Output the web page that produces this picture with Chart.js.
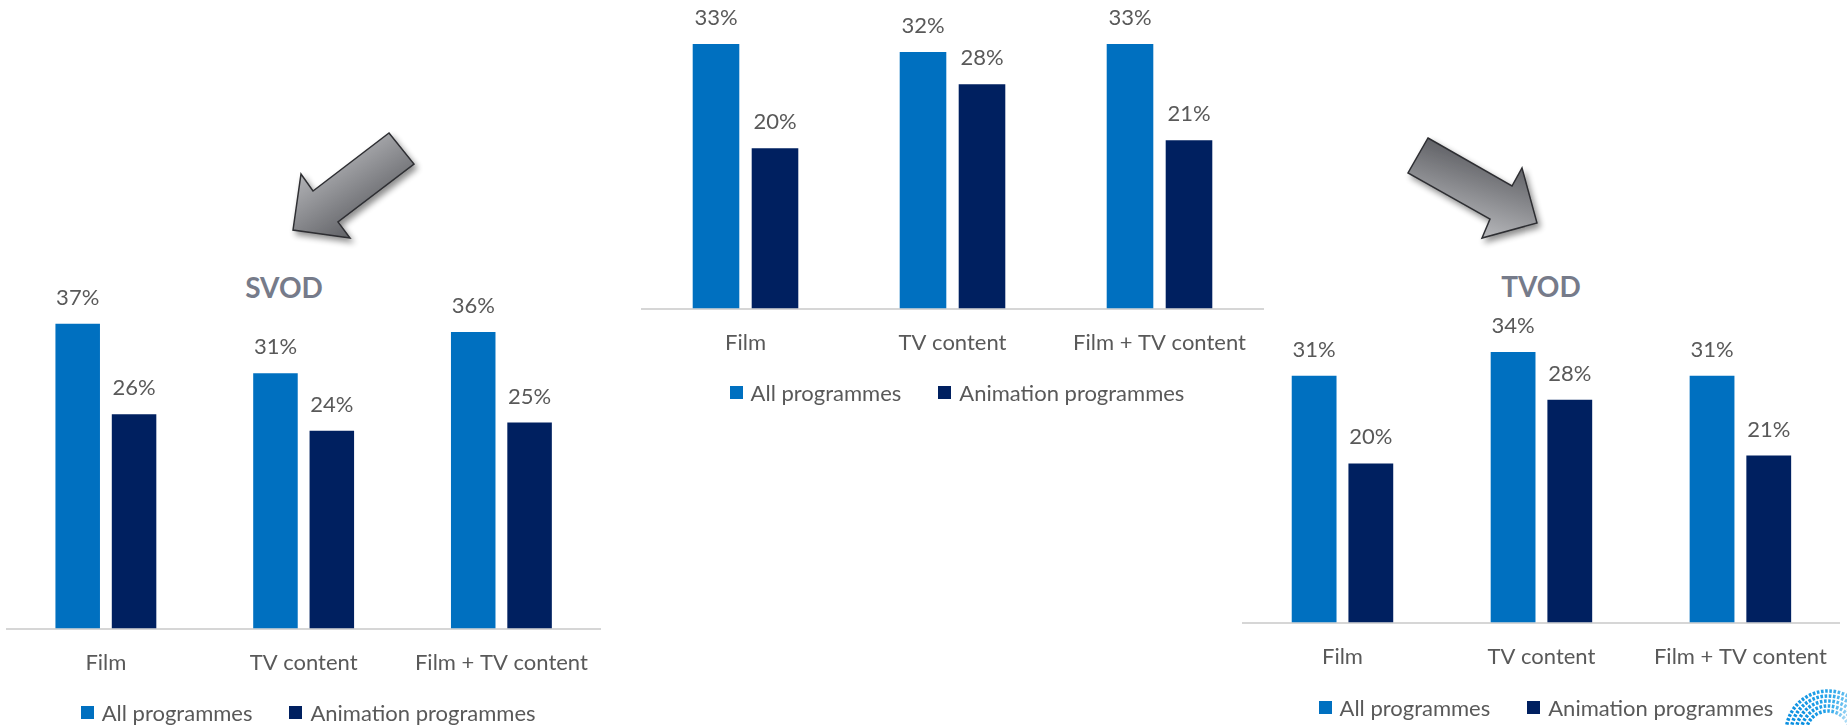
<!DOCTYPE html>
<html>
<head>
<meta charset="utf-8">
<script src="https://cdn.jsdelivr.net/npm/chart.js@4.4.1/dist/chart.umd.min.js"></script>
<style>
  html, body { margin: 0; padding: 0; background: #ffffff; }
  body { width: 1847px; height: 725px; overflow: hidden; position: relative; font-family: Lato, "Open Sans", sans-serif; }
  canvas { position: absolute; }
  .title { position: absolute; transform: translate(-50%, -50%); font: bold 28px Lato, sans-serif; color: #767b8a; line-height: 1; white-space: nowrap; }
  svg.deco { position: absolute; left: 0; top: 0; }
</style>
</head>
<body>
<svg class="deco" width="1847" height="725" viewBox="0 0 1847 725">
  <defs>
    <linearGradient id="gLeft" x1="0.15" y1="0.05" x2="0.85" y2="0.95">
      <stop offset="0" stop-color="#c9cacd"/>
      <stop offset="1" stop-color="#4a4b50"/>
    </linearGradient>
    <linearGradient id="gRight" x1="0.7" y1="0" x2="0.3" y2="1">
      <stop offset="0" stop-color="#4a4b50"/>
      <stop offset="1" stop-color="#c3c4c7"/>
    </linearGradient>
    <linearGradient id="gLogo" x1="0" y1="0" x2="1" y2="0">
      <stop offset="0" stop-color="#0a8fe0"/>
      <stop offset="0.55" stop-color="#2aa6ea"/>
      <stop offset="1" stop-color="#cfe9f8"/>
    </linearGradient>
    <filter id="shadow" x="-30%" y="-30%" width="160%" height="160%">
      <feGaussianBlur in="SourceAlpha" stdDeviation="3"/>
      <feOffset dx="3" dy="4" result="b"/>
      <feComponentTransfer><feFuncA type="linear" slope="0.45"/></feComponentTransfer>
      <feMerge><feMergeNode/><feMergeNode in="SourceGraphic"/></feMerge>
    </filter>
  </defs>
  <polygon points="389,133 414,164 338,222 350,238 293,230 301,174 313,191" fill="url(#gLeft)" stroke="#2e2f33" stroke-width="1.5" stroke-linejoin="miter" filter="url(#shadow)"/>
  <polygon points="1428,138 1512,186 1522,168 1537,223 1482,238 1490,219 1408,173" fill="url(#gRight)" stroke="#2e2f33" stroke-width="1.5" stroke-linejoin="miter" filter="url(#shadow)"/>
  <g fill="none" stroke="url(#gLogo)" stroke-width="3.5" stroke-dasharray="2.6 1.6">
    <path d="M 1806 733 A 22 22 0 0 1 1850 733"/>
    <path d="M 1801 733 A 27 27 0 0 1 1855 733"/>
    <path d="M 1796 733 A 32 32 0 0 1 1860 733"/>
    <path d="M 1791 733 A 37 37 0 0 1 1865 733"/>
    <path d="M 1786 733 A 42 42 0 0 1 1870 733"/>
  </g>
</svg>

<div class="title" style="left:284px; top:287px;">SVOD</div>
<div class="title" style="left:1541px; top:286px;">TVOD</div>

<canvas id="cSvod" width="610" height="468" style="left:0px; top:260px;"></canvas>
<canvas id="cAll" width="635" height="408" style="left:635px; top:0px;"></canvas>
<canvas id="cTvod" width="613" height="422" style="left:1236px; top:300px;"></canvas>

<script>
// ---- Data ----
const categories = ['Film', 'TV content', 'Film + TV content'];
const seriesNames = ['All programmes', 'Animation programmes'];

const allVodAll = [33, 32, 33];
const allVodAnimation = [20, 28, 21];

const svodAll = [37, 31, 36];
const svodAnimation = [26, 24, 25];

const tvodAll = [31, 34, 31];
const tvodAnimation = [20, 28, 21];

// ---- Styles ----
const colorAll = '#0070C0';
const colorAnim = '#002060';
const textGray = '#595959';
const fontFamily = 'Lato, "Open Sans", sans-serif';

const valueLabels = {
  id: 'valueLabels',
  afterDatasetsDraw(chart) {
    const ctx = chart.ctx;
    ctx.save();
    ctx.font = '22px ' + fontFamily;
    ctx.fillStyle = textGray;
    ctx.textAlign = 'center';
    ctx.textBaseline = 'middle';
    chart.data.datasets.forEach((ds, i) => {
      chart.getDatasetMeta(i).data.forEach((bar, j) => {
        ctx.fillText(ds.data[j] + '%', bar.x, bar.y - 26);
      });
    });
    ctx.restore();
  }
};

// Legend below the axis, built from the datasets' labels and colours
const bottomLegend = {
  id: 'bottomLegend',
  afterDraw(chart, args, opts) {
    const ctx = chart.ctx;
    const area = chart.chartArea;
    ctx.save();
    ctx.font = '22px ' + fontFamily;
    ctx.textBaseline = 'middle';
    ctx.textAlign = 'left';
    const box = 13, boxGap = 8, itemGap = 37;
    const items = chart.data.datasets.map(ds => ({
      text: ds.label,
      color: ds.backgroundColor,
      w: box + boxGap + ctx.measureText(ds.label).width
    }));
    const total = items.reduce((s, it) => s + it.w, 0) + itemGap * (items.length - 1);
    let x = (area.left + area.right) / 2 + opts.shift - total / 2;
    const y = area.bottom + opts.offset;
    items.forEach(it => {
      ctx.fillStyle = it.color;
      ctx.fillRect(Math.round(x), Math.round(y - box / 2), box, box);
      ctx.fillStyle = textGray;
      ctx.fillText(it.text, x + box + boxGap, y + 1);
      x += it.w + itemGap;
    });
    ctx.restore();
  }
};

function makeChart(id, allData, animData, yMax, padTop, legendOffset) {
  return new Chart(document.getElementById(id), {
    type: 'bar',
    data: {
      labels: categories,
      datasets: [
        { label: seriesNames[0], data: allData, backgroundColor: colorAll, borderWidth: 0,
          categoryPercentage: 0.57, barPercentage: 0.79 },
        { label: seriesNames[1], data: animData, backgroundColor: colorAnim, borderWidth: 0,
          categoryPercentage: 0.57, barPercentage: 0.79 }
      ]
    },
    options: {
      responsive: false,
      animation: false,
      devicePixelRatio: 1,
      layout: { padding: { top: padTop, left: 7, right: 7, bottom: 31 } },
      scales: {
        x: {
          grid: { display: false, drawTicks: false, tickLength: 0 },
          border: { display: true, color: '#d6d6d6', width: 2 },
          ticks: {
            color: textGray,
            font: { family: fontFamily, size: 22, lineHeight: 1.2 },
            padding: 21,
            maxRotation: 0,
            autoSkip: false
          }
        },
        y: { display: false, min: 0, max: yMax }
      },
      plugins: {
        legend: { display: false },
        bottomLegend: { offset: legendOffset, shift: 4.5 },
        tooltip: { enabled: false },
        title: { display: false }
      }
    },
    plugins: [valueLabels, bottomLegend]
  });
}

makeChart('cAll', allVodAll, allVodAnimation, 36, 20, 84);
makeChart('cSvod', svodAll, svodAnimation, 40, 39, 84);
makeChart('cTvod', tvodAll, tvodAnimation, 36, 36, 85);
</script>
</body>
</html>
